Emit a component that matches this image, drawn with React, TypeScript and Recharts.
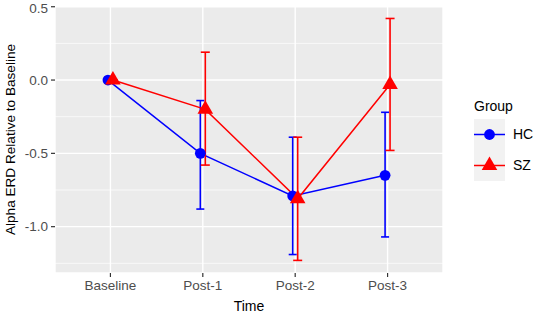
import React from "react";
import { LineChart, Line, XAxis, YAxis, CartesianGrid, ErrorBar, ReferenceLine } from "recharts";

const times = ["Baseline", "Post-1", "Post-2", "Post-3"];

const hcMean = [0, -0.5, -0.79, -0.65];
const hcLow = [0, -0.88, -1.19, -1.07];
const hcHigh = [0, -0.14, -0.39, -0.22];

const szMean = [0, -0.2, -0.81, -0.03];
const szLow = [0, -0.58, -1.23, -0.48];
const szHigh = [0, 0.19, -0.39, 0.42];

const yTicks = [-1, -0.5, 0, 0.5];
const yMinor = [-1.25, -0.75, -0.25, 0.25];

const BLUE = "#0000FF";
const RED = "#FF0000";
const DODGE = 0.027;
const FONT = "'Liberation Sans', Arial, sans-serif";

function buildSeries(mean: number[], low: number[], high: number[], shift: number) {
    return times.map((t, i) => ({
        x: i + shift,
        name: t,
        y: mean[i],
        err: [mean[i] - low[i], high[i] - mean[i]],
    }));
}

const hcData = buildSeries(hcMean, hcLow, hcHigh, -DODGE);
const szData = buildSeries(szMean, szLow, szHigh, DODGE);

const triPath = (cx: number, cy: number, h: number) =>
    `M${cx},${cy - h * 1.1547} L${cx + h},${cy + h * 0.577} L${cx - h},${cy + h * 0.577} Z`;

const CircleDot = (props: any) => {
    const { cx, cy, index } = props;
    return <circle key={`hc-${index}`} cx={cx} cy={cy} r={5.4} fill={BLUE} stroke="none" />;
};

const TriangleDot = (props: any) => {
    const { cx, cy, index } = props;
    return <path key={`sz-${index}`} d={triPath(cx, cy, 7.8)} fill={RED} stroke="none" />;
};

const GroupLegend = () => (
    <div style={{ position: "absolute", left: 474, top: 98, fontFamily: FONT }}>
        <div style={{ fontSize: 14, color: "#000", marginBottom: 5 }}>Group</div>
        <div style={{ display: "flex", alignItems: "flex-start" }}>
            <svg width={31} height={62} style={{ display: "block" }}>
                <rect x={0} y={0} width={31} height={62} fill="#F2F2F2" />
                <line x1={0} y1={15.5} x2={31} y2={15.5} stroke={BLUE} strokeWidth={1.5} />
                <circle cx={15.5} cy={15.5} r={5.4} fill={BLUE} />
                <line x1={0} y1={46.5} x2={31} y2={46.5} stroke={RED} strokeWidth={1.5} />
                <path d={triPath(15.5, 46.5, 7.8)} fill={RED} />
            </svg>
            <div style={{ marginLeft: 8, fontSize: 14, color: "#000" }}>
                <div style={{ height: 31, lineHeight: "31px" }}>HC</div>
                <div style={{ height: 31, lineHeight: "31px" }}>SZ</div>
            </div>
        </div>
    </div>
);

const YLabel = (props: any) => {
    const vb = props.viewBox;
    const cy = vb.y + vb.height / 2;
    return (
        <text x={15} y={cy} transform={`rotate(-90, 15, ${cy})`} textAnchor="middle" fontSize={13.6} fill="#000" fontFamily={FONT}>
            Alpha ERD Relative to Baseline
        </text>
    );
};

const XLabel = (props: any) => {
    const vb = props.viewBox;
    return (
        <text x={vb.x + vb.width / 2} y={311} textAnchor="middle" fontSize={14} fill="#000" fontFamily={FONT}>
            Time
        </text>
    );
};

const App = () => {
    return (
        <div style={{ position: "absolute", left: 0, top: 0, width: 536, height: 315, background: "#fff" }}>
            <LineChart width={536} height={315} margin={{ top: 6, right: 93, bottom: 0, left: 0 }}>
                <CartesianGrid fill="#EBEBEB" stroke="#FFFFFF" strokeWidth={1.4} />
                {yMinor.map((v) => (
                    <ReferenceLine key={v} y={v} stroke="#FFFFFF" strokeWidth={0.7} />
                ))}
                <XAxis
                    type="number"
                    dataKey="x"
                    domain={[-0.6, 3.6]}
                    ticks={[0, 1, 2, 3]}
                    tickFormatter={(v: number) => times[v]}
                    height={42}
                    axisLine={false}
                    tickSize={4}
                    tickMargin={3}
                    tickLine={{ stroke: "#333333", strokeWidth: 1.2 }}
                    tick={{ fill: "#4D4D4D", fontSize: 13.5, fontFamily: FONT }}
                    label={<XLabel />}
                />
                <YAxis
                    type="number"
                    domain={[-1.316, 0.505]}
                    ticks={yTicks}
                    tickFormatter={(v: number) => v.toFixed(1)}
                    width={55}
                    axisLine={false}
                    tickSize={4}
                    tickMargin={3}
                    tickLine={{ stroke: "#333333", strokeWidth: 1.2 }}
                    tick={{ fill: "#4D4D4D", fontSize: 13.5, fontFamily: FONT }}
                    label={<YLabel />}
                />
                <Line
                    data={hcData}
                    dataKey="y"
                    stroke={BLUE}
                    strokeWidth={1.5}
                    dot={<CircleDot />}
                    activeDot={false}
                    isAnimationActive={false}
                >
                    <ErrorBar dataKey="err" width={4} stroke={BLUE} strokeWidth={1.6} direction="y" isAnimationActive={false} />
                </Line>
                <Line
                    data={szData}
                    dataKey="y"
                    stroke={RED}
                    strokeWidth={1.5}
                    dot={<TriangleDot />}
                    activeDot={false}
                    isAnimationActive={false}
                >
                    <ErrorBar dataKey="err" width={4.5} stroke={RED} strokeWidth={1.6} direction="y" isAnimationActive={false} />
                </Line>
            </LineChart>
            <GroupLegend />
        </div>
    );
};

export default App;
